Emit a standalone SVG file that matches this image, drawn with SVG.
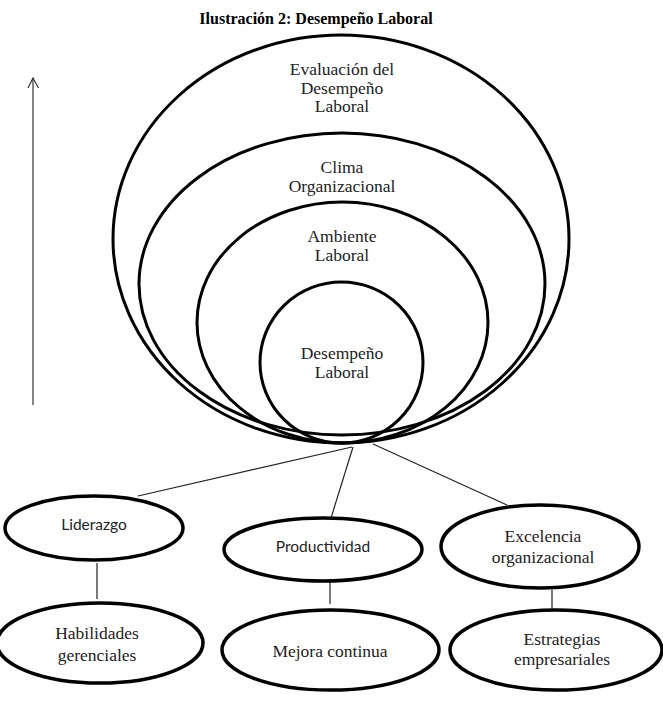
<svg xmlns="http://www.w3.org/2000/svg" width="663" height="711" viewBox="0 0 663 711">
<style>
  .big { fill: none; stroke: #000; stroke-width: 3; }
  .node { fill: #fff; stroke: #000; stroke-width: 3.5; }
  .conn { stroke: #222; stroke-width: 1.2; fill: none; }
  .serif { font-family: "Liberation Serif", "Times New Roman", serif; font-size: 17.5px; fill: #222; text-anchor: middle; }
  .sans { font-family: Lato, "Liberation Sans", sans-serif; font-size: 15.5px; fill: #222; text-anchor: middle; }
  .title { font-family: "Liberation Serif", "Times New Roman", serif; font-size: 16px; font-weight: bold; fill: #000; text-anchor: middle; }
</style>
<rect width="663" height="711" fill="#fff"/>
<text class="title" x="316" y="24">Ilustración 2: Desempeño Laboral</text>

<g id="arrow">
  <line x1="33" y1="405" x2="33" y2="78" stroke="#333" stroke-width="1.2"/>
  <polyline points="28,88 33,78 38.5,88" fill="none" stroke="#333" stroke-width="1.2"/>
</g>

<g id="evaluacion">
  <ellipse class="big" cx="341" cy="239" rx="228" ry="204"/>
  <text class="serif" x="342" y="75">Evaluación del</text>
  <text class="serif" x="342" y="93.5">Desempeño</text>
  <text class="serif" x="342" y="112">Laboral</text>
</g>
<g id="clima">
  <ellipse class="big" cx="342" cy="284" rx="203" ry="151"/>
  <text class="serif" x="342" y="173">Clima</text>
  <text class="serif" x="342" y="192">Organizacional</text>
</g>
<g id="ambiente">
  <ellipse class="big" cx="342.5" cy="322.5" rx="145.5" ry="120.5"/>
  <text class="serif" x="342" y="242">Ambiente</text>
  <text class="serif" x="342" y="260.5">Laboral</text>
</g>
<g id="desempeno">
  <ellipse class="big" cx="341.5" cy="362.5" rx="81.5" ry="80.5"/>
  <text class="serif" x="342" y="359">Desempeño</text>
  <text class="serif" x="342" y="377.5">Laboral</text>
</g>

<g id="connectors">
  <line class="conn" x1="352" y1="447" x2="138" y2="496"/>
  <line class="conn" x1="353" y1="447" x2="331" y2="518"/>
  <line class="conn" x1="373" y1="444" x2="507" y2="505"/>
  <line class="conn" x1="97" y1="563" x2="97" y2="599"/>
  <line class="conn" x1="330" y1="582" x2="330" y2="604"/>
  <line class="conn" x1="552" y1="590" x2="552" y2="609"/>
</g>

<g id="liderazgo">
  <ellipse class="node" cx="94" cy="528" rx="89" ry="32"/>
  <text class="sans" x="94" y="530">Liderazgo</text>
</g>
<g id="productividad">
  <ellipse class="node" cx="323" cy="549.5" rx="99" ry="31.5"/>
  <text class="sans" x="323" y="552">Productividad</text>
</g>
<g id="excelencia">
  <ellipse class="node" cx="540" cy="546.5" rx="99" ry="41.5"/>
  <text class="serif" x="543" y="542">Excelencia</text>
  <text class="serif" x="543" y="563">organizacional</text>
</g>
<g id="habilidades">
  <ellipse class="node" cx="100" cy="643" rx="103" ry="40"/>
  <text class="serif" x="97" y="639">Habilidades</text>
  <text class="serif" x="97" y="661">gerenciales</text>
</g>
<g id="mejora">
  <ellipse class="node" cx="330.5" cy="650" rx="108.5" ry="40"/>
  <text class="serif" x="330" y="657">Mejora continua</text>
</g>
<g id="estrategias">
  <ellipse class="node" cx="556" cy="650" rx="106" ry="40"/>
  <text class="serif" x="562" y="645">Estrategias</text>
  <text class="serif" x="562" y="665">empresariales</text>
</g>
</svg>
